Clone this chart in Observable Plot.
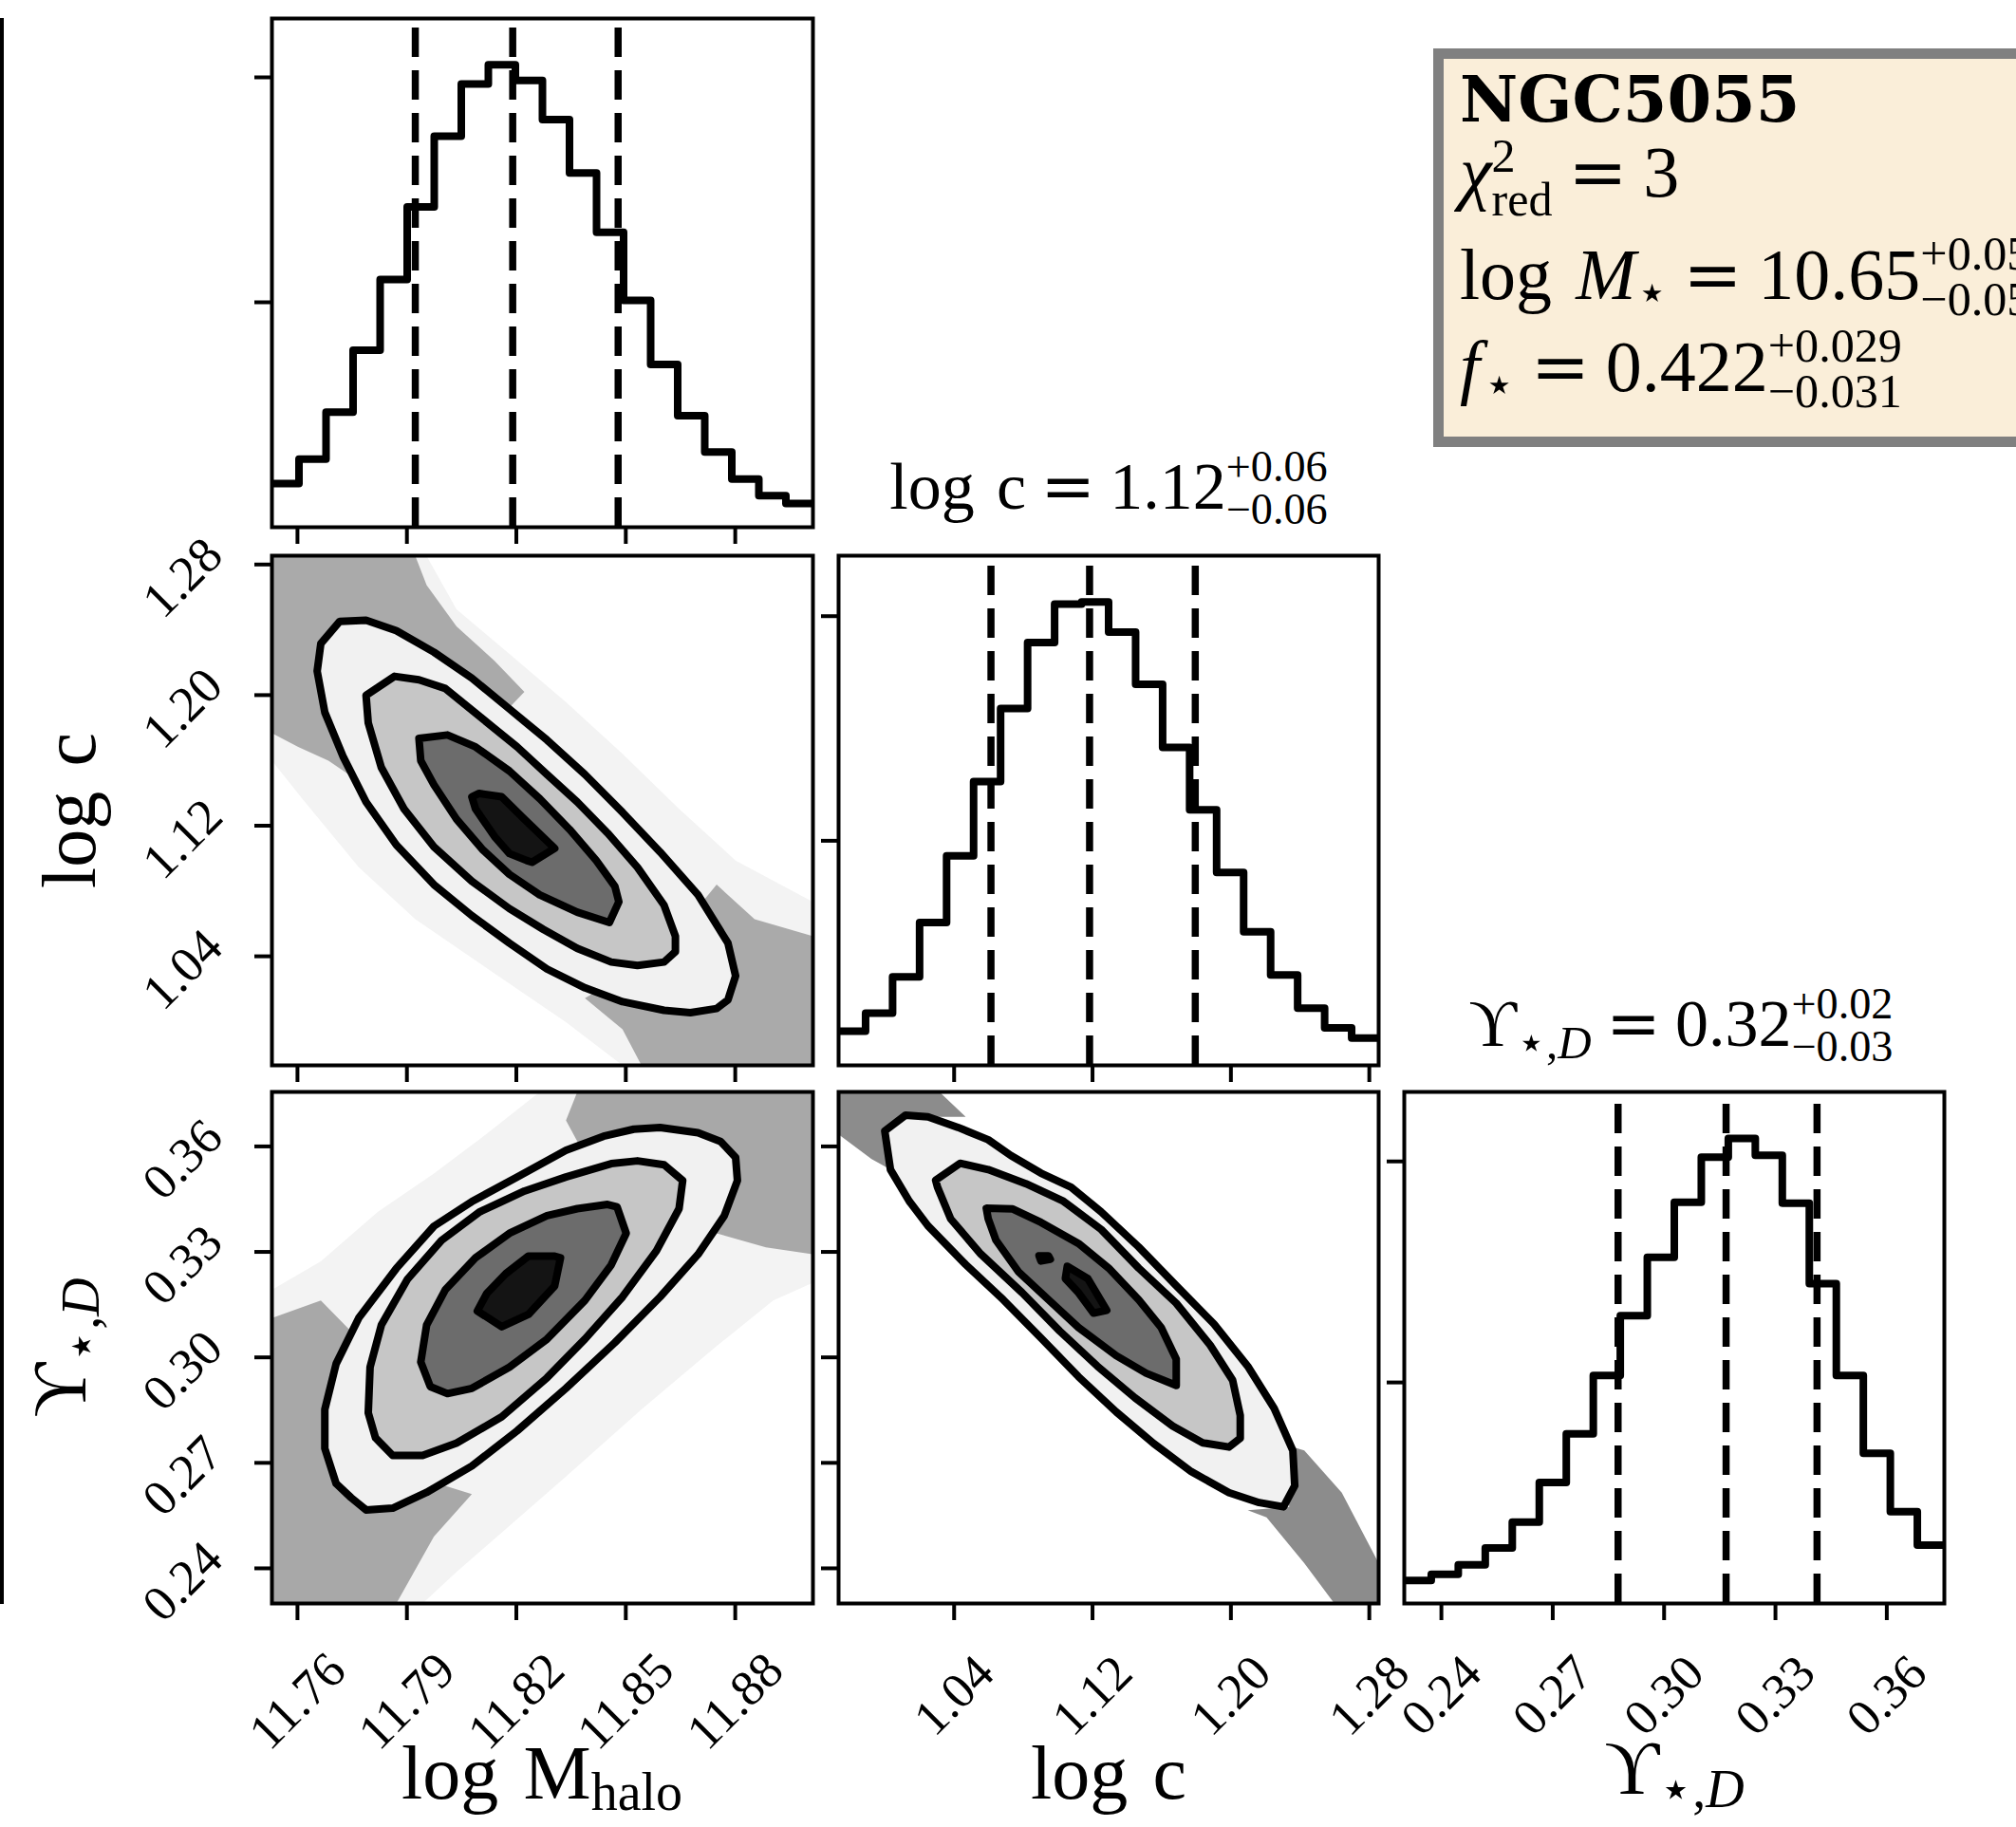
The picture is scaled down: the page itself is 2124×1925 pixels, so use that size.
<!DOCTYPE html>
<html>
<head>
<meta charset="utf-8">
<script src="https://cdn.jsdelivr.net/npm/d3@7"></script>
<script src="https://cdn.jsdelivr.net/npm/@observablehq/plot@0.6"></script>
<style>
html,body{margin:0;padding:0;background:#fff;overflow:hidden;}
#fig{position:relative;width:2124px;height:1925px;overflow:hidden;background:#fff;}
#fig svg{overflow:visible;}
</style>
</head>
<body>
<div id="fig"></div>
<script>
// ---------------- data ----------------
const mhaloRange = [11.753, 11.9013];
const logcRange = [0.9732, 1.2854];
const upsRange = [0.2300, 0.3755];

const mhaloTicks = [11.76, 11.79, 11.82, 11.85, 11.88];
const mhaloTickLabels = ["11.76", "11.79", "11.82", "11.85", "11.88"];
const logcTicks = [1.04, 1.12, 1.20, 1.28];
const logcTickLabels = ["1.04", "1.12", "1.20", "1.28"];
const upsTicks = [0.24, 0.27, 0.30, 0.33, 0.36];
const upsTickLabels = ["0.24", "0.27", "0.30", "0.33", "0.36"];
const histTicks = [1, 2];

// 1D marginal histograms (20 bins over each range, arbitrary count units)
const histMhalo = [0.194, 0.303, 0.512, 0.787, 1.101, 1.424, 1.738, 1.970, 2.056, 1.986, 1.812, 1.575, 1.311, 1.008, 0.724, 0.496, 0.334, 0.214, 0.140, 0.105];
const histLogc = [0.152, 0.232, 0.394, 0.636, 0.933, 1.264, 1.589, 1.883, 2.054, 2.063, 1.929, 1.697, 1.416, 1.138, 0.859, 0.595, 0.403, 0.255, 0.167, 0.121];
const histUps = [0.104, 0.132, 0.175, 0.251, 0.368, 0.547, 0.768, 1.032, 1.302, 1.566, 1.815, 2.019, 2.104, 2.028, 1.811, 1.447, 1.032, 0.679, 0.415, 0.264];

// 16 / 50 / 84 percentiles
const qMhalo = [11.7923, 11.8190, 11.8479];
const qLogc = [1.0613, 1.1183, 1.1794];
const qUps = [0.2876, 0.3167, 0.3412];

// ---- log Mhalo vs log c ----
const mlHalo = [[11.753,1.2853],[11.7954,1.2853],[11.8036,1.2526],[11.8181,1.2252],[11.8336,1.1957],[11.8491,1.1640],[11.8646,1.1303],[11.8801,1.0987],[11.9013,1.0734],[11.9013,0.9732],[11.8491,0.9732],[11.8336,0.9996],[11.8129,1.0312],[11.7923,1.0628],[11.7768,1.0945],[11.7613,1.1366],[11.753,1.1598]];
const mlTailA = [[11.753,1.2853],[11.7923,1.2853],[11.7954,1.2674],[11.8036,1.2421],[11.8140,1.2210],[11.8222,1.2020],[11.8078,1.1683],[11.7768,1.1472],[11.7685,1.1598],[11.7602,1.1683],[11.753,1.1767]];
const mlTailB = [[11.8749,1.0839],[11.8853,1.0628],[11.9013,1.0523],[11.9013,0.9732],[11.8543,0.9732],[11.8491,0.9953],[11.8388,1.0143],[11.8594,1.0417]];
const mlOuter = [[11.7716,1.2452],[11.7788,1.2459],[11.7871,1.2395],[11.7974,1.2263],[11.8078,1.2104],[11.8181,1.1915],[11.8284,1.1725],[11.8388,1.1514],[11.8491,1.1282],[11.8594,1.1039],[11.8698,1.0776],[11.8780,1.0481],[11.8801,1.0280],[11.8780,1.0133],[11.8749,1.0080],[11.8677,1.0055],[11.8605,1.0069],[11.8491,1.0122],[11.8388,1.0207],[11.8284,1.0322],[11.8181,1.0481],[11.8078,1.0649],[11.7974,1.0839],[11.7871,1.1082],[11.7788,1.1345],[11.7726,1.1619],[11.7675,1.1894],[11.7654,1.2147],[11.7664,1.2315]];
const mlMiddle = [[11.7866,1.2115],[11.7933,1.2094],[11.8005,1.2041],[11.8098,1.1872],[11.8202,1.1683],[11.8284,1.1514],[11.8367,1.1345],[11.8450,1.1155],[11.8532,1.0945],[11.8605,1.0713],[11.8636,1.0523],[11.8636,1.0428],[11.8605,1.0365],[11.8532,1.0344],[11.8460,1.0365],[11.8367,1.0449],[11.8274,1.0565],[11.8181,1.0692],[11.8078,1.0860],[11.7974,1.1071],[11.7892,1.1303],[11.7830,1.1556],[11.7794,1.1830],[11.7788,1.1999]];
const mlInner = [[11.7933,1.1735],[11.8011,1.1756],[11.8088,1.1683],[11.8181,1.1535],[11.8264,1.1366],[11.8346,1.1177],[11.8419,1.0987],[11.8470,1.0829],[11.8481,1.0734],[11.8455,1.0607],[11.8367,1.0670],[11.8264,1.0776],[11.8181,1.0902],[11.8109,1.1050],[11.8036,1.1240],[11.7974,1.1451],[11.7938,1.1598]];
const mlCore = [[11.8078,1.1377],[11.8098,1.1398],[11.8160,1.1377],[11.8222,1.1240],[11.8305,1.1061],[11.8243,1.0976],[11.8228,1.0987],[11.8181,1.1029],[11.8140,1.1134],[11.8088,1.1303]];

// ---- log Mhalo vs Upsilon ----
const blHalo = [[11.753,0.3192],[11.7664,0.3273],[11.7819,0.3413],[11.7974,0.3523],[11.8129,0.3644],[11.8264,0.3755],[11.9013,0.3755],[11.9013,0.3212],[11.8904,0.3162],[11.8749,0.3032],[11.8543,0.2852],[11.8336,0.2661],[11.8181,0.2521],[11.8036,0.2390],[11.7943,0.2300],[11.753,0.2300]];
const blTailA = [[11.8367,0.3755],[11.9013,0.3755],[11.9013,0.3293],[11.8884,0.3313],[11.8749,0.3353],[11.8646,0.3513],[11.8388,0.3574],[11.8336,0.3674]];
const blTailB = [[11.753,0.3112],[11.7664,0.3162],[11.7768,0.3052],[11.7788,0.2811],[11.7923,0.2661],[11.8078,0.2611],[11.7974,0.2490],[11.7871,0.2300],[11.753,0.2300]];
const blOuter = [[11.7788,0.2566],[11.7861,0.2571],[11.7954,0.2616],[11.8078,0.2691],[11.8202,0.2791],[11.8336,0.2912],[11.8470,0.3042],[11.8594,0.3172],[11.8698,0.3293],[11.8770,0.3403],[11.8806,0.3503],[11.8801,0.3569],[11.8760,0.3614],[11.8698,0.3639],[11.8594,0.3654],[11.8522,0.3649],[11.8439,0.3629],[11.8336,0.3589],[11.8202,0.3513],[11.8078,0.3443],[11.7974,0.3373],[11.7871,0.3253],[11.7768,0.3112],[11.7706,0.2982],[11.7675,0.2852],[11.7675,0.2741],[11.7706,0.2641],[11.7747,0.2601]];
const blMiddle = [[11.7861,0.2721],[11.7943,0.2721],[11.8036,0.2756],[11.8160,0.2831],[11.8284,0.2942],[11.8388,0.3052],[11.8491,0.3172],[11.8584,0.3303],[11.8646,0.3423],[11.8656,0.3503],[11.8605,0.3548],[11.8532,0.3559],[11.8460,0.3551],[11.8336,0.3513],[11.8222,0.3473],[11.8098,0.3413],[11.7995,0.3333],[11.7902,0.3223],[11.7830,0.3092],[11.7799,0.2972],[11.7794,0.2842],[11.7814,0.2771]];
const blInner = [[11.8011,0.2897],[11.8078,0.2912],[11.8181,0.2972],[11.8284,0.3052],[11.8388,0.3162],[11.8460,0.3263],[11.8501,0.3353],[11.8476,0.3428],[11.8450,0.3435],[11.8367,0.3423],[11.8284,0.3403],[11.8181,0.3353],[11.8088,0.3283],[11.8005,0.3192],[11.7954,0.3092],[11.7938,0.2987],[11.7964,0.2917]];
const blCore = [[11.8093,0.3132],[11.8160,0.3087],[11.8233,0.3122],[11.8305,0.3203],[11.8321,0.3283],[11.8305,0.3288],[11.8233,0.3288],[11.8171,0.3238],[11.8119,0.3182]];

// ---- log c vs Upsilon ----
const bmTailA = [[0.9732,0.3755],[1.0315,0.3755],[1.0467,0.3684],[1.0141,0.3684],[1.0010,0.3644],[1.0032,0.3534],[0.9923,0.3564],[0.9732,0.3634]];
const bmTailB = [[1.2293,0.2755],[1.2424,0.2735],[1.2641,0.2615],[1.2854,0.2415],[1.2854,0.2300],[1.2598,0.2300],[1.2424,0.2415],[1.2206,0.2545],[1.2097,0.2565],[1.2337,0.2575]];
const bmOuter = [[1.0119,0.3689],[1.0249,0.3684],[1.0423,0.3654],[1.0597,0.3619],[1.0728,0.3574],[1.0902,0.3524],[1.1076,0.3484],[1.1250,0.3414],[1.1467,0.3314],[1.1684,0.3204],[1.1902,0.3095],[1.2097,0.2975],[1.2250,0.2855],[1.2358,0.2735],[1.2369,0.2635],[1.2304,0.2575],[1.2163,0.2587],[1.1989,0.2615],[1.1771,0.2675],[1.1554,0.2755],[1.1337,0.2845],[1.1119,0.2945],[1.0902,0.3055],[1.0684,0.3164],[1.0467,0.3264],[1.0249,0.3374],[1.0141,0.3444],[1.0032,0.3534],[0.9999,0.3644]];
const bmMiddle = [[1.0434,0.3552],[1.0597,0.3534],[1.0815,0.3494],[1.1032,0.3444],[1.1250,0.3364],[1.1467,0.3254],[1.1684,0.3154],[1.1880,0.3035],[1.2010,0.2935],[1.2054,0.2835],[1.2054,0.2770],[1.1989,0.2745],[1.1837,0.2757],[1.1663,0.2805],[1.1445,0.2885],[1.1228,0.2975],[1.1010,0.3075],[1.0793,0.3184],[1.0554,0.3294],[1.0380,0.3394],[1.0304,0.3484],[1.0293,0.3504]];
const bmInner = [[1.0586,0.3424],[1.0739,0.3422],[1.0902,0.3384],[1.1119,0.3324],[1.1293,0.3254],[1.1467,0.3164],[1.1597,0.3085],[1.1684,0.2995],[1.1684,0.2920],[1.1510,0.2955],[1.1337,0.3005],[1.1119,0.3085],[1.0945,0.3164],[1.0771,0.3244],[1.0641,0.3334],[1.0597,0.3394]];
const bmCore = [[1.1054,0.3259],[1.1173,0.3224],[1.1282,0.3134],[1.1206,0.3126],[1.1119,0.3184],[1.1043,0.3224]];
const bmCore2 = [[1.0891,0.3289],[1.0945,0.3289],[1.0956,0.3279],[1.0902,0.3274]];

// ---------------- drawing ----------------
const FONT = "'Liberation Serif','DejaVu Serif',serif";
const EQFONT = "'DejaVu Serif',serif";
const fig = document.getElementById("fig");

function panel(left, top, w, h, xDom, yDom, marks) {
  const svg = Plot.plot({
    width: w, height: h, margin: 0,
    x: {domain: xDom}, y: {domain: yDom},
    style: "overflow: visible; background: transparent;",
    marks
  });
  svg.style.position = "absolute";
  svg.style.left = left + "px";
  svg.style.top = top + "px";
  svg.style.overflow = "visible";
  svg.style.background = "transparent";
  svg.style.maxWidth = "none";
  fig.appendChild(svg);
}

const xTicks = (t) => Plot.axisX(t, {anchor: "bottom", tickSize: 18, strokeWidth: 4, tickFormat: () => "", label: null});
const yTicks = (t) => Plot.axisY(t, {anchor: "left", tickSize: 18, strokeWidth: 4, tickFormat: () => "", label: null});
const xLabels = (t, labs, dy) => Plot.text(t, {x: d => d, text: (d, i) => labs[i], frameAnchor: "bottom", dy, rotate: -45, fontSize: 53, fontFamily: FONT, textAnchor: "middle", lineAnchor: "middle", fill: "black"});
const yLabels = (t, labs) => Plot.text(t, {y: d => d, text: (d, i) => labs[i], frameAnchor: "left", dx: -94, dy: 14, rotate: -45, fontSize: 53, fontFamily: FONT, textAnchor: "middle", lineAnchor: "middle", fill: "black"});
const frame = () => Plot.frame({stroke: "black", strokeWidth: 4});

function histMarks(counts, range, q) {
  const n = counts.length, bw = (range[1] - range[0]) / n;
  const pts = counts.map((c, i) => [range[0] + i * bw, c]).concat([[range[1], counts[n - 1]]]);
  const ymax = 1.1 * d3.max(counts);
  return [
    Plot.ruleX(q, {x: d => d, y1: 0, y2: ymax, stroke: "black", strokeWidth: 7.5, strokeDasharray: "31,14"}),
    Plot.line(pts, {x: d => d[0], y: d => d[1], curve: "step-after", stroke: "black", strokeWidth: 8, strokeLinejoin: "round", strokeLinecap: "butt"})
  ];
}
const poly = (data, fill) => Plot.line(data, {x: d => d[0], y: d => d[1], curve: "linear-closed", fill, stroke: "none", clip: true});
const cont = (data) => Plot.line(data, {x: d => d[0], y: d => d[1], curve: "linear-closed", fill: "none", stroke: "black", strokeWidth: 8, strokeLinejoin: "round", clip: true});

function densityMarks(halo, tails, tailFill, outer, middle, inner, cores) {
  const m = [];
  if (halo) m.push(poly(halo, "#f3f3f3"));
  for (const t of tails) m.push(poly(t, tailFill));
  m.push(poly(outer, "#f1f1f1"), poly(middle, "#c6c6c6"), poly(inner, "#6c6c6c"));
  for (const c of cores) m.push(poly(c, "#141414"));
  m.push(cont(outer), cont(middle), cont(inner));
  for (const c of cores) m.push(cont(c));
  return m;
}

const C0 = 286, C1 = 883, C2 = 1479, W0 = 570, W1 = 569, W2 = 569;
const R0 = 19, R1 = 585, R2 = 1150, H0 = 536, H1 = 537, H2 = 539;

// Row 0: log Mhalo histogram
panel(C0, R0, W0, H0, mhaloRange, [0, 1.1 * d3.max(histMhalo)], [
  ...histMarks(histMhalo, mhaloRange, qMhalo),
  xTicks(mhaloTicks), yTicks(histTicks), frame()
]);

// Row 1
panel(C0, R1, W0, H1, mhaloRange, logcRange, [
  ...densityMarks(mlHalo, [mlTailA, mlTailB], "#aaaaaa", mlOuter, mlMiddle, mlInner, [mlCore]),
  xTicks(mhaloTicks), yTicks(logcTicks), yLabels(logcTicks, logcTickLabels), frame()
]);
panel(C1, R1, W1, H1, logcRange, [0, 1.1 * d3.max(histLogc)], [
  ...histMarks(histLogc, logcRange, qLogc),
  xTicks(logcTicks), yTicks(histTicks), frame()
]);

// Row 2
panel(C0, R2, W0, H2, mhaloRange, upsRange, [
  ...densityMarks(blHalo, [blTailA, blTailB], "#a8a8a8", blOuter, blMiddle, blInner, [blCore]),
  xTicks(mhaloTicks), yTicks(upsTicks),
  xLabels(mhaloTicks, mhaloTickLabels, 103), yLabels(upsTicks, upsTickLabels), frame()
]);
panel(C1, R2, W1, H2, logcRange, upsRange, [
  ...densityMarks(null, [bmTailA, bmTailB], "#8c8c8c", bmOuter, bmMiddle, bmInner, [bmCore, bmCore2]),
  xTicks(logcTicks), yTicks(upsTicks),
  xLabels(logcTicks, logcTickLabels, 97), frame()
]);
panel(C2, R2, W2, H2, upsRange, [0, 1.1 * d3.max(histUps)], [
  ...histMarks(histUps, upsRange, qUps),
  xTicks(upsTicks), yTicks(histTicks),
  xLabels(upsTicks, upsTickLabels, 97), frame()
]);

// ---------------- text overlay ----------------
const ov = d3.select(fig).append("svg")
  .attr("width", 2124).attr("height", 1925)
  .style("position", "absolute").style("left", "0px").style("top", "0px")
  .attr("font-family", FONT).attr("fill", "black");

// left edge line
ov.append("rect").attr("x", 0).attr("y", 19).attr("width", 4).attr("height", 1671).attr("fill", "black");

// info box
ov.append("rect").attr("x", 1515.5).attr("y", 56.5).attr("width", 700).attr("height", 409)
  .attr("fill", "#faeed9").attr("stroke", "#808080").attr("stroke-width", 11);

// rich text written as positioned tspans inside one <text>
function runsInto(txt, x0, y0, runs) {
  let cx = x0;
  const add = (s, px, py, size, r = {}) => {
    const t = txt.append("tspan").attr("x", px).attr("y", py).attr("font-size", size).text(s);
    if (r.italic) t.attr("font-style", "italic");
    if (r.bold) t.attr("font-weight", "bold");
    if (r.family) t.attr("font-family", r.family);
    return t.node().getComputedTextLength();
  };
  for (const r of runs) {
    cx += r.padL || 0;
    if (r.stack) {
      const a = add(r.stack[0], cx, y0 - r.up, r.size);
      const b = add(r.stack[1], cx, y0 + r.down, r.size);
      cx += Math.max(a, b);
    } else {
      cx += add(r.t, cx, y0 + (r.dy || 0), r.size, r);
    }
    cx += r.padR || 0;
  }
  return cx - x0;
}
function rich(x, y, runs, anchor = "start", rotate = 0) {
  const g = ov.append("g");
  const txt = g.append("text");
  const w = runsInto(txt, 0, 0, runs);
  const shift = anchor === "middle" ? -w / 2 : 0;
  g.attr("transform", `translate(${x},${y}) rotate(${rotate}) translate(${shift},0)`);
}
const eq = (s) => ({t: "=", size: 0.98 * s, family: EQFONT, padL: 0.22 * s, padR: 0.22 * s});
const stack = (a, b, s) => ({stack: [a, b], size: 0.66 * s, up: 0.41 * s, down: 0.23 * s});

// box text (one text element, four lines)
const BS = 76;
const boxText = ov.append("text");
runsInto(boxText, 1538, 128, [{t: "NGC5055", size: 67, bold: true, family: "'DejaVu Serif',serif"}]);
runsInto(boxText, 1538, 207, [{t: "χ", size: BS, italic: true}, {stack: ["2", "red"], size: 0.66 * BS, up: 0.34 * BS, down: 0.26 * BS}, eq(BS), {t: "3", size: BS}]);
runsInto(boxText, 1538, 315, [{t: "log", size: BS, padR: 0.33 * BS}, {t: "M", size: BS, italic: true}, {t: "⋆", size: 0.7 * BS, dy: 0.15 * BS}, eq(BS), {t: "10.65", size: BS}, stack("+0.05", "−0.05", BS)]);
runsInto(boxText, 1538, 412, [{t: "f", size: BS, italic: true, padR: 0.05 * BS}, {t: "⋆", size: 0.7 * BS, dy: 0.15 * BS}, eq(BS), {t: "0.422", size: BS}, stack("+0.029", "−0.031", BS)]);

// panel titles
const TS = 70;
rich(1168, 536, [{t: "log", size: TS, padR: 0.33 * TS}, {t: "c", size: TS}, eq(TS), {t: "1.12", size: TS}, stack("+0.06", "−0.06", TS)], "middle");
rich(1771, 1102, [{t: "ϒ", size: TS}, {t: "⋆,", size: 0.7 * TS, dy: 0.18 * TS}, {t: "D", size: 0.7 * TS, italic: true, dy: 0.18 * TS}, eq(TS), {t: "0.32", size: TS}, stack("+0.02", "−0.03", TS)], "middle");

// axis labels
const AS = 80;
rich(571, 1895, [{t: "log", size: AS, padR: 0.33 * AS}, {t: "M", size: AS}, {t: "halo", size: 0.7 * AS, dy: 0.15 * AS}], "middle");
rich(1168, 1895, [{t: "log", size: AS, padR: 0.33 * AS}, {t: "c", size: AS}], "middle");
rich(1764, 1890, [{t: "ϒ", size: AS}, {t: "⋆,", size: 0.7 * AS, dy: 0.18 * AS}, {t: "D", size: 0.7 * AS, italic: true, dy: 0.18 * AS}], "middle");
rich(100, 854, [{t: "log", size: AS, padR: 0.33 * AS}, {t: "c", size: AS}], "middle", -90);
rich(90, 1420, [{t: "ϒ", size: AS}, {t: "⋆,", size: 0.7 * AS, dy: 0.18 * AS}, {t: "D", size: 0.7 * AS, italic: true, dy: 0.18 * AS}], "middle", -90);
</script>
</body>
</html>
